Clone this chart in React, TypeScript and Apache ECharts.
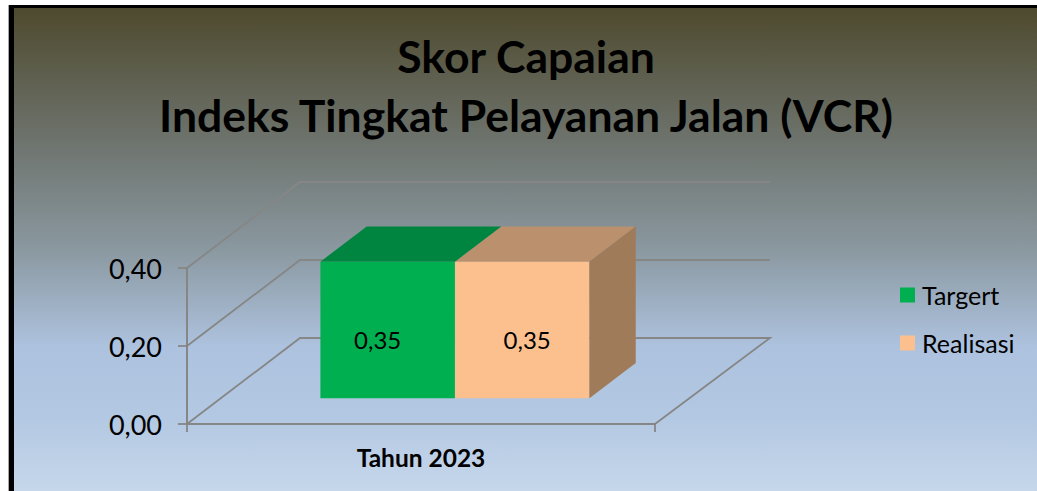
import React, { useEffect, useRef } from "react";
import * as echarts from "echarts";

const titleLines = ["Skor Capaian", "Indeks Tingkat Pelayanan Jalan (VCR)"];
const categories = ["Tahun 2023"];
const targetValues = [0.35];
const realisasiValues = [0.35];
const wallTicks = [0, 0.2, 0.4];

const FONT = "Lato";
const DX = 113, DY = -86;          // full depth vector of the 3D floor
const FRONT = 0.3, BACK = 0.71;    // bar depth position as fraction of the floor
const BAR_W = 134.5;
const WALL = "#868686";
const LW = 1.8;

const fmt = (v: number) => v.toFixed(2).replace(".", ",");

function wallRender(params: any, api: any) {
  const [x0, y] = api.coord([0, api.value(0)]);
  const y0 = api.coord([0, 0])[1];
  const size = api.size([1, 0])[0];
  const left = x0 - size / 2;
  const right = x0 + size / 2;
  const isFloor = api.value(0) === 0;
  const isTop = params.dataIndex === wallTicks.length - 1;
  const pts = isFloor
    ? [[left, y], [left + DX, y + DY], [right + DX + 2, y + DY], [right, y]]
    : [[left, y], [left + DX, y + DY], [right + DX + 2, y + DY]];
  if (isTop) pts.unshift([left, y0]);
  return {
    type: "polyline",
    shape: { points: pts },
    style: { stroke: WALL, lineWidth: LW, fill: "none" },
    silent: true,
  };
}

function barRender(side: number, top: string, sideColor: string | null, labelDx: number, labelDy: number) {
  return (params: any, api: any) => {
    const val = api.value(1);
    const [cx, y0] = api.coord([api.value(0), 0]);
    const yv = api.coord([api.value(0), val])[1];
    const fx = FRONT * DX, fy = FRONT * DY;
    const bx = BACK * DX, by = BACK * DY;
    const xa = cx + fx + (side < 0 ? -BAR_W : 0);
    const xb = xa + BAR_W;
    const fill = api.visual("color");
    const children: any[] = [
      {
        type: "polygon",
        shape: { points: [[xa, yv + fy], [xb, yv + fy], [xb - fx + bx, yv + by], [xa - fx + bx, yv + by]] },
        style: { fill: top },
      },
      {
        type: "rect",
        shape: { x: xa, y: yv + fy, width: BAR_W, height: y0 - yv },
        style: { fill },
      },
    ];
    if (sideColor) {
      children.push({
        type: "polygon",
        shape: { points: [[xb, yv + fy], [xb - fx + bx, yv + by], [xb - fx + bx, y0 + by], [xb, y0 + fy]] },
        style: { fill: sideColor },
      });
    }
    children.push({
      type: "text",
      x: (xa + xb) / 2 + labelDx,
      y: (yv + y0) / 2 + fy + labelDy,
      style: {
        text: fmt(val),
        fill: "#000",
        font: `24px ${FONT}`,
        align: "center",
        verticalAlign: "middle",
      },
    });
    return { type: "group", children };
  };
}

export default function App() {
  const ref = useRef<HTMLDivElement>(null);
  useEffect(() => {
    document.body.style.margin = "0";
    const chart = echarts.init(ref.current!, undefined, { renderer: "svg" });
    chart.setOption({
      animation: false,
      backgroundColor: "#ffffff",
      graphic: [
        { type: "rect", z: -10, shape: { x: 8, y: 5, width: 1029, height: 486 }, style: { fill: "#000" } },
        { type: "rect", z: -10, shape: { x: 8, y: 5, width: 1, height: 486 }, style: { fill: "#a8a8a8" } },
        {
          type: "rect",
          z: -9,
          shape: { x: 14, y: 8, width: 1023, height: 483 },
          style: {
            fill: new echarts.graphic.LinearGradient(0, 0, 0, 1, [
              { offset: 0, color: "#4e4a2e" },
              { offset: 0.28, color: "#6e746e" },
              { offset: 0.5, color: "#8a98a0" },
              { offset: 0.7, color: "#adc2de" },
              { offset: 0.85, color: "#b3c8e2" },
              { offset: 1, color: "#c6d7eb" },
            ]),
          },
        },
      ],
      title: {
        text: titleLines.join("\n"),
        left: 521,
        top: 21,
        textAlign: "center",
        textStyle: { fontFamily: FONT, fontWeight: "bold", fontSize: 44.5, lineHeight: 59, color: "#000" },
      },
      legend: {
        orient: "vertical",
        left: 895,
        top: 275,
        data: ["Targert", "Realisasi"],
        icon: "rect",
        itemWidth: 15,
        itemHeight: 15,
        itemGap: 18,
        textStyle: { fontFamily: FONT, fontSize: 25, lineHeight: 30, color: "#000", padding: [0, 0, 0, 2] },
      },
      grid: { left: 187, top: 268, width: 468, height: 156 },
      xAxis: {
        type: "category",
        data: categories,
        axisLine: { onZero: false, lineStyle: { color: WALL, width: LW } },
        axisTick: { show: true, length: 8, lineStyle: { color: WALL, width: LW } },
        axisLabel: { margin: 21, fontFamily: FONT, fontWeight: "bold", fontSize: 24.5, color: "#000" },
      },
      yAxis: {
        type: "value",
        min: 0,
        max: 0.4,
        interval: 0.2,
        axisLine: { show: true, onZero: false, lineStyle: { color: WALL, width: LW } },
        axisTick: { show: true, length: 9, lineStyle: { color: WALL, width: LW } },
        splitLine: { show: false },
        axisLabel: { margin: 25, fontFamily: FONT, fontSize: 27, color: "#000", formatter: fmt },
      },
      series: [
        {
          name: "wall",
          type: "custom",
          silent: true,
          z: 1,
          data: wallTicks.map((t) => [t]),
          encode: { x: -1, y: 0 },
          renderItem: (p: any, api: any) => wallRender(p, api),
        },
        {
          name: "Realisasi",
          type: "custom",
          z: 3,
          itemStyle: { color: "#fcc08e" },
          data: categories.map((_, i) => [i, realisasiValues[i]]),
          encode: { x: 0, y: 1 },
          renderItem: barRender(1, "#bb906c", "#9f7b5a", 5, 10),
        },
        {
          name: "Targert",
          type: "custom",
          z: 4,
          itemStyle: { color: "#00b050" },
          data: categories.map((_, i) => [i, targetValues[i]]),
          encode: { x: 0, y: 1 },
          renderItem: barRender(-1, "#008540", null, -10, 10),
        },
      ],
    });
    return () => chart.dispose();
  }, []);
  return <div ref={ref} style={{ width: 1037, height: 491 }} />;
}
